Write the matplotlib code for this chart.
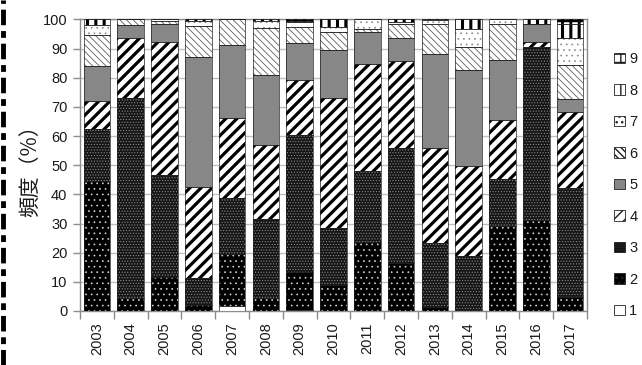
import matplotlib
matplotlib.use('Agg')
import matplotlib.pyplot as plt
import numpy as np
from matplotlib.patches import Patch
from matplotlib.lines import Line2D

years = ['2003', '2004', '2005', '2006', '2007', '2008', '2009', '2010',
         '2011', '2012', '2013', '2014', '2015', '2016', '2017']
cats = ['1', '2', '3', '4', '5', '6', '7', '8', '9']

# frequency (%) of each category per year
c1 = [0, 0, 0, 0, 1.8, 0, 0.5, 0, 0, 0, 0, 0, 0, 0, 0]
c2 = [44.7, 4.3, 11.8, 2.0, 17.6, 4.3, 13.0, 8.9, 23.8, 16.3, 1.5, 0, 29.3, 31.2, 4.9]
c3 = [17.9, 68.8, 34.8, 9.2, 19.2, 27.2, 46.8, 19.7, 24.3, 39.5, 21.9, 19.0, 16.0, 59.4, 37.2]
c4 = [9.4, 20.6, 45.7, 31.2, 27.5, 25.4, 18.9, 44.5, 36.5, 29.9, 32.4, 30.7, 20.2, 1.7, 26.0]
c5 = [12.1, 4.4, 6.1, 44.6, 25.1, 24.2, 12.9, 16.4, 11.2, 8.0, 32.2, 32.9, 20.6, 6.1, 4.6]
c6 = [10.5, 1.9, 1.0, 10.8, 8.8, 16.0, 5.4, 6.3, 1.1, 4.6, 10.4, 8.0, 12.2, 0, 11.6]
c7 = [3.5, 0, 0.6, 1.7, 0, 2.3, 1.7, 1.7, 3.1, 0.7, 1.4, 6.3, 1.7, 0, 9.4]
c8 = [1.9, 0, 0, 0.5, 0, 0.6, 0.4, 2.5, 0, 1.0, 0.2, 3.1, 0, 1.6, 4.9]
c9 = [0, 0, 0, 0, 0, 0, 0.4, 0, 0, 0, 0, 0, 0, 0, 1.4]
series = [c1, c2, c3, c4, c5, c6, c7, c8, c9]

# (face, hatch, hatch colour, hatch linewidth)
styles = [
    ('white', None, 'black', 1.0),
    ('black', '...', '#d0d0d0', 0.5),
    ('#151515', '......', '#8a8a8a', 0.5),
    ('white', '///', 'black', 2.3),
    ('#878787', None, 'black', 1.0),
    ('white', '\\\\\\\\\\', '#606060', 0.6),
    ('white', '...', '#8a8a8a', 0.5),
    ('white', '||', 'black', 2.2),
    ('white', '++', 'black', 2.0),
]

plt.rcParams['font.family'] = ['Liberation Sans', 'DejaVu Sans']
tick_color = '#1a1a1a'

fig = plt.figure(figsize=(6.42, 3.65), dpi=100)
ax = fig.add_axes([0.1246, 0.148, 0.7897, 0.7986])

x = np.arange(len(years))
width = 0.79
bottom = np.zeros(len(years))
for vals, (fc, hatch, hc, hlw) in zip(series, styles):
    vals = np.array(vals)
    with plt.rc_context({'hatch.linewidth': hlw}):
        bars = ax.bar(x, vals, width, bottom=bottom, color=fc, hatch=hatch,
                      edgecolor=hc, linewidth=0, zorder=3)
    for b in bars:
        if hasattr(b, 'set_hatch_linewidth'):
            b.set_hatch_linewidth(hlw)
    ax.bar(x, vals, width, bottom=bottom, fill=False, edgecolor='#222222',
           linewidth=0.5, zorder=4)
    bottom += vals

ax.set_xlim(-0.5, len(years) - 0.5)
ax.set_ylim(0, 100)
ax.set_yticks(np.arange(0, 101, 10))
ax.set_xticks(x)
ax.set_xticklabels(years, rotation=90, fontsize=10.5, color=tick_color)
ax.set_xticks(np.arange(-0.5, len(years), 1), minor=True)
ax.tick_params(axis='x', which='major', length=0, pad=8)
ax.tick_params(axis='x', which='minor', length=6, color='#8c8c8c', width=1)
ax.tick_params(axis='y', length=5, color='#8c8c8c', width=1, labelsize=10.5,
               labelcolor=tick_color, pad=4)
ax.yaxis.grid(True, color='#bfbfbf', linewidth=1, zorder=0)
ax.set_axisbelow(True)
for s in ax.spines.values():
    s.set_color('#8c8c8c')
    s.set_linewidth(1)

ax.set_ylabel('頻度（%）', family=['Noto Sans CJK JP', 'DejaVu Sans'],
              fontsize=15, color=tick_color, labelpad=1)

handles = []
for (fc, hatch, hc, hlw), c in zip(styles, cats):
    with plt.rc_context({'hatch.linewidth': min(hlw, 1.2)}):
        p = Patch(facecolor=fc, hatch=hatch, edgecolor='#222222', linewidth=0.6, label=c)
    handles.append(p)
ax.legend(handles[::-1], cats[::-1], loc='center left',
          bbox_to_anchor=(0.945, 0.493), bbox_transform=fig.transFigure,
          frameon=False, fontsize=10.5, handlelength=0.75, handleheight=0.75,
          handletextpad=0.3, labelspacing=1.2, borderpad=0, labelcolor=tick_color)

# dashed border at the left edge
fig.add_artist(Line2D([0.004, 0.004], [0, 1], transform=fig.transFigure,
                      color='black', linewidth=3.5, dashes=(3.2, 1.2, 1.4, 1.2)))

fig.savefig('out.png', dpi=100)
